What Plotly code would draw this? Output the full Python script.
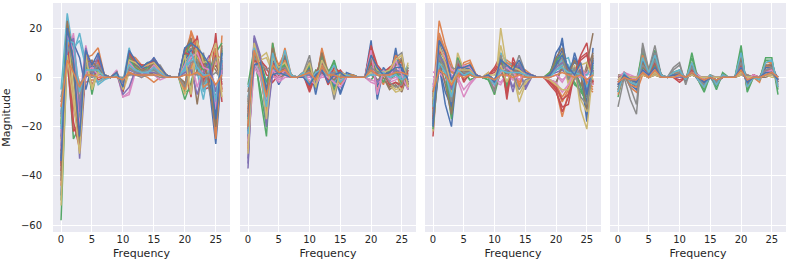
import plotly.graph_objects as go

freq = list(range(27))

panel1 = [
    [-35, 14, 8, -5, 2, 3, 1, 0.5, 0, 1, -2, 6, 4, 3, 2, 7, 3, 1, 0, 0, 6, 9, 8, 3, -5, -27, 3],
    [-20, 12, 5, -2, -2, -1, -2, -0.5, 0, 0.5, -1, 1, 2, 1, 0, -2, 0, 0, 0, 0, -5, 19, 12, 4, 2, -25, 17],
    [-58, 10, -25, -20, 10, 2, 5, 1, 0, 1, -3, 8, 5, 4, 6, 4, 3, 1, 0, 0, -9, -2, 7, -3, 2, -10, 6],
    [-30, 7, -22, -18, 4, -3, 2, 1, 0, 2, -3, 3, 5, 5, 4, 6, 2, 1, 0, 0, 5, -8, 17, -5, -4, 18, -10],
    [-48, 16, 14, -33, 3, 6, 4, 1, 0, 2, -4, 5, 3, 3, 5, 8, 4, 1, 0, 0, 10, 14, 6, 5, 9, -20, 5],
    [-25, 9, 12, -28, 9, 1, 3, 1, 0, 1, -1, 4, 2, 1, 2, 3, 2, 0, 0, 0, -3, 8, -11, 7, 6, 3, -2],
    [-12, 5, 18, -10, 13, 0, 6, 0, 0, 3, -8, -7, 2, 0, 3, 1, -1, 0, 0, 0, 3, 6, 4, 2, 4, 6, -3],
    [-40, 20, 6, -15, 7, -6, 8, 1, 0, 2, -5, 6, 7, 4, 3, 5, 5, 1, 0, 0, 8, 12, 3, 10, -6, -15, 8],
    [-18, 24, -8, -25, 5, 4, 1, 0, 0, 1, -6, 2, 1, 2, 2, 2, 1, 0, 0, 0, -4, 5, 9, 6, 1, -5, 2],
    [-5, 26, 10, 18, 6, 4, -3, -1, 0, 1, -2, 12, 3, 5, 1, 3, 1, 1, 0, 0, 2, 10, 2, -9, 5, -18, 12],
    [-28, 15, 14, 8, -5, 5, 3, 1, 0, 1, -3, 7, 4, 2, 3, 8, 4, 0, 0, 0, 12, 9, 7, 3, 0, -22, 4],
    [-32, 22, 10, -30, 8, 9, 12, 1, 0, 2, -4, 9, 8, 5, 4, 4, 2, 1, 0, 0, 9, 18, 10, 2, 7, -24, 6],
    [-50, 18, 2, -20, 11, -7, 5, 1, 0, 2, -6, 10, 6, 4, 6, 5, 3, 1, 0, 0, -6, -5, 13, 8, 3, 10, 14],
    [-38, 14, -12, -24, 2, 4, -1, 0, 0, 1, -2, 6, 3, 3, 5, 6, 3, 1, 0, 0, 11, 13, 16, -2, 8, 15, -5],
    [-15, 11, 8, -12, 0, 2, 2, 0, 0, 1, -1, 3, 2, 1, 2, 4, 2, 0, 0, 0, 4, 4, 5, 1, 2, -8, 2],
    [-10, 8, 4, -6, 3, 1, 1, 0, 0, 0, -1, 2, 1, 1, 1, 2, 1, 0, 0, 0, -2, -3, 3, 0, 1, 5, -1],
    [-22, 13, 17, -16, 5, 3, 4, 1, 0, 2, -8, -6, 4, 2, 3, 3, 2, 0, 0, 0, 6, 7, -4, 4, 3, -12, 3],
    [-8, 6, 3, -3, 1, 0, 1, 0, 0, 0, 0, 1, 1, 0, 1, 1, 0, 0, 0, 0, 1, 2, 1, 1, 0, 2, 0],
    [-26, 17, -5, -22, 6, -4, 3, 1, 0, 1, -3, 4, 2, 3, 3, 2, 2, 0, 0, 0, -7, 3, 8, 5, -3, 7, 9],
    [-14, 20, 12, 15, 4, 2, -2, 0, 0, 1, -2, 8, 2, 3, 2, 3, 1, 0, 0, 0, 3, 7, 6, -6, 4, -10, 10],
    [-33, 19, 13, -27, 7, 2, 4, 1, 0, 1, -4, 7, 5, 4, 4, 5, 3, 1, 0, 0, 7, 11, 9, 6, 4, -16, 7],
    [-44, 12, 15, -22, 10, 5, 6, 1, 0, 2, -5, 5, 4, 3, 3, 6, 2, 1, 0, 0, -5, 4, 11, -4, -2, 12, -6],
    [-19, 21, 9, -18, 4, 3, 2, 0, 0, 1, -3, 8, 4, 2, 4, 4, 2, 0, 0, 0, 8, 15, 6, 3, 5, -19, 11],
    [-36, 16, -18, -29, 8, 6, 7, 1, 0, 2, -6, 10, 6, 5, 5, 7, 4, 1, 0, 0, 10, 9, 14, 5, -2, 9, -3],
    [-24, 10, 16, -14, 12, 1, 9, 0, 0, 2, -7, -4, 3, 1, 2, 2, 1, 0, 0, 0, 2, 3, -7, 2, 6, -6, 5],
    [-42, 23, 3, -26, 6, 7, 3, 1, 0, 1, -2, 9, 5, 3, 3, 6, 3, 1, 0, 0, 11, 16, 4, 8, -4, -20, 13],
    [-29, 17, 11, -20, 2, 4, 1, 0, 0, 1, -3, 6, 3, 2, 2, 5, 2, 0, 0, 0, 5, 8, 10, 4, 3, -13, 6],
    [-16, 13, 6, -9, 5, 2, 5, 1, 0, 1, -2, 4, 2, 2, 3, 3, 1, 0, 0, 0, -4, 6, 7, -3, 2, 8, 3],
    [-52, 9, -10, -31, 9, -5, 2, 1, 0, 2, -5, 7, 6, 4, 5, 6, 3, 1, 0, 0, 9, -7, 15, 6, 7, 14, -8],
    [-21, 15, 14, -6, 3, 3, 3, 0, 0, 1, -1, 5, 3, 2, 2, 4, 2, 0, 0, 0, 4, 10, 4, 1, 1, -9, 7],
    [-34, 20, 7, -24, 11, 5, 10, 1, 0, 2, -4, 11, 7, 4, 6, 7, 4, 1, 0, 0, 12, 14, 12, 9, 5, -17, 10],
    [-12, 7, 2, -4, 1, 1, 0, 0, 0, 0, -1, 2, 1, 1, 1, 1, 1, 0, 0, 0, 1, 1, 2, 0, 1, -3, 1],
]

panel2 = [
    [-20, 8, 4, -4, 3, -3, 2, 1, 0, 1, 3, -4, 2, 1, 2, -7, 0, 1, 0, 0, 15, -9, 3, -2, 12, -2, -4],
    [-15, 10, 5, -10, 14, 2, 12, 1, 0, 2, 4, -3, 12, 2, -3, 1, 1, 0, 0, 0, 6, 2, -3, 4, 2, -5, 3],
    [-3, 12, -8, -24, 14, 0, 5, 1, 0, 1, -4, 2, 3, 1, 7, -2, 1, 0, 0, 0, 2, 1, 2, -1, 1, 0, -2],
    [-25, 6, 7, 4, -2, 1, 3, 0, 0, 1, -6, 1, 4, -3, 1, 3, 0, 0, 0, 0, 12, 3, 1, 3, 5, 8, -3],
    [-37, 17, 9, -18, 3, 2, 4, 1, 0, 2, 3, -2, 2, 3, 2, 1, 1, 1, 0, 0, 4, 2, 2, 1, 2, 3, 1],
    [-10, 11, 3, -6, 4, 1, 2, 0, 0, 1, 2, -1, 3, 1, 2, 1, 0, 0, 0, 0, 3, -1, 0, -5, -3, -6, 2],
    [-30, 5, 2, -15, 2, -1, 1, 0, 0, 0, 1, -2, 1, 0, 1, -1, 0, 0, 0, 0, -2, -3, -1, -2, -1, 1, -1],
    [-18, 13, 6, -8, 6, 4, 3, 1, 0, 2, 9, -5, 8, 3, -9, 2, 1, 0, 0, 0, 5, 4, 1, 2, 8, 10, -5],
    [-12, 9, 8, 10, 3, 3, 2, 1, 0, 1, 2, 0, 4, 2, 3, 0, 1, 0, 0, 0, 3, 2, 2, -3, -6, -5, 6],
    [-8, 7, 5, -3, 5, 3, 2, 0, 0, 1, 3, -1, 2, 1, -3, 2, 0, 1, 0, 0, 2, 1, 2, 0, 2, 1, 5],
    [-22, 14, 3, -10, 1, 5, 3, 1, 0, 1, 6, -7, 5, 2, 1, -6, 2, 1, 0, 0, 9, -4, 4, 1, 10, 3, -5],
    [-16, 12, 4, -12, 11, 5, 10, 1, 0, 2, 5, -2, 11, 1, -2, 2, 1, 0, 0, 0, 7, 3, 2, 3, 4, -2, 4],
    [-27, 8, -5, -20, 10, 1, 6, 0, 0, 1, -3, 3, 2, 2, 6, -1, 1, 1, 0, 0, -1, 2, 3, 0, 2, 1, 0],
    [-13, 7, 8, 1, 0, 2, 2, 1, 0, 1, -5, 2, 6, -2, 2, 2, 0, 0, 0, 0, 13, 5, 2, 4, 6, 6, -2],
    [-33, 15, 6, -16, 4, 2, 3, 1, 0, 1, 2, -1, 3, 2, 1, 1, 1, 0, 0, 0, 3, 1, 2, 1, 1, 2, 1],
    [-6, 10, 2, -4, 2, 0, 1, 0, 0, 0, 1, 0, 1, 0, 1, 0, 0, 0, 0, 0, 1, -1, 0, -4, -2, -3, 1],
    [-28, 4, 0, -13, 1, -2, 0, 0, 0, 0, 0, -1, 0, 0, 0, -1, 0, 0, 0, 0, -1, -2, -1, -1, 0, 0, -1],
    [-11, 9, 4, -5, 3, 2, 2, 0, 0, 1, 7, -3, 5, 2, -6, 1, 0, 0, 0, 0, 3, 2, 1, 1, 5, 8, -3],
    [-19, 6, 7, 8, 2, 2, 1, 0, 0, 1, 1, 0, 3, 1, 2, 0, 0, 0, 0, 0, 2, 1, 1, -2, -5, -4, 5],
    [-4, 5, 3, -1, 3, 2, 1, 0, 0, 0, 2, 0, 1, 1, -2, 1, 0, 0, 0, 0, 1, 1, 1, 0, 1, 0, 3],
    [-24, 11, 6, -7, 7, 3, 8, 1, 0, 1, 4, -3, 7, 2, -4, 2, 1, 0, 0, 0, 8, 2, 3, 2, 6, 5, -2],
    [-29, 13, 2, -14, 9, 2, 7, 1, 0, 1, -2, -1, 5, 1, 3, -3, 1, 1, 0, 0, 10, -6, 2, 1, 9, 6, -4],
    [-17, 9, 7, -2, 4, 4, 5, 0, 0, 1, 5, -4, 9, 2, -5, 1, 1, 0, 0, 0, 5, 3, -2, 3, 3, -3, 4],
    [-21, 7, 5, -11, 6, 1, 4, 0, 0, 1, -4, 2, 2, -1, 4, 2, 0, 0, 0, 0, 6, 1, 2, -3, -2, -4, 3],
    [-35, 16, 8, -20, 2, 3, 2, 1, 0, 1, 1, -2, 3, 2, 2, 0, 1, 0, 0, 0, 4, -2, 1, 1, 3, 2, 0],
    [-14, 10, 4, -6, 12, 2, 9, 1, 0, 2, 3, -1, 10, 1, -1, 2, 1, 0, 0, 0, 7, 4, 1, 2, 5, 7, -3],
    [-26, 6, 1, -9, 3, 0, 3, 0, 0, 0, -1, -3, 1, 0, -2, -4, 0, 0, 0, 0, 11, -7, 3, -1, 7, 1, -5],
    [-9, 8, 6, 3, 5, 3, 4, 1, 0, 1, 2, 1, 4, 1, 2, 1, 0, 0, 0, 0, 4, 2, 2, -2, -4, -3, 4],
    [-31, 14, 5, -17, 8, 4, 6, 1, 0, 1, 6, -4, 7, 2, -7, 2, 1, 0, 0, 0, 9, 3, 2, 3, 7, 9, -4],
    [-23, 12, 3, -12, 10, 1, 11, 1, 0, 2, -3, 2, 3, 1, 5, -2, 1, 0, 0, 0, 1, 1, 2, 0, 1, -1, 1],
    [-16, 5, 6, -5, 1, 2, 1, 0, 0, 0, -3, 1, 3, -2, 1, 2, 0, 0, 0, 0, 9, 4, 1, 2, 4, 4, -1],
    [-20, 11, 4, -8, 5, 2, 3, 0, 0, 1, 2, -1, 4, 1, 1, 0, 0, 0, 0, 0, 3, 1, 1, 1, 2, 2, 1],
]

panel3 = [
    [-20, 5, -11, -20, 4, 2, 3, 1, 0, 1, -2, 3, 2, 1, 2, 1, 0, 0, 0, 1, 5, 16, -2, 10, 2, -18, 12],
    [-8, 23, 13, 5, -2, 6, 7, 1, 0, 2, -6, 3, 7, 5, -4, 3, 1, 0, 0, -2, -5, -16, -6, 3, 6, -4, -6],
    [-15, 10, 2, -14, 7, 3, -1, 0, 0, -1, -5, 4, -5, 6, 3, 0, 1, 0, 0, 2, 8, 4, 1, -3, -5, -10, 3],
    [-24, 12, 8, -6, 5, -2, 2, 1, 0, 1, 4, 9, -9, 8, 2, 2, 0, 0, 0, -3, -6, -12, -11, 2, 9, 14, -3],
    [-10, 6, 4, -3, 2, 1, 1, 0, 0, 1, -3, 2, 3, -6, 4, -5, 0, 0, 0, 1, 3, 5, 2, 1, 3, -2, 1],
    [-18, 8, 5, -8, 3, 2, 2, 0, 0, 1, -4, 5, 2, 3, 2, 1, 1, 0, 0, -1, -3, 6, 3, 4, -4, 5, 18],
    [2, 3, -2, 1, -1, -8, -3, 0, 0, 0, -2, -3, 2, -1, 1, 0, 0, 0, 0, 0, 1, -2, 2, 1, 0, 3, 1],
    [-12, 17, 10, 4, 3, 4, 3, 1, 0, 1, -1, 6, 4, 2, 9, 2, 1, 0, 0, 1, 4, 7, 3, -1, 5, -8, 4],
    [-22, 9, 6, -10, 10, 3, 5, 1, 0, 2, -7, 20, 4, 2, -10, -3, 0, 0, 0, 2, 6, 10, -3, 5, -13, -21, 3],
    [-5, 7, 3, -4, 5, 2, 1, 0, 0, 0, -3, 10, 6, 5, 3, 2, 1, 0, 0, 1, 4, 7, 8, 0, 2, 1, 6],
    [-17, 4, -6, -12, 2, 1, 4, 1, 0, 1, -1, 4, 1, 2, 1, 0, 0, 0, 0, 1, 10, 14, 2, 8, 3, -15, 8],
    [-14, 18, 11, 3, -1, 5, 6, 1, 0, 1, -5, 2, 5, 3, -3, 2, 1, 0, 0, -1, -4, -10, -5, 2, 5, -3, -5],
    [-11, 8, 1, -17, 6, 2, -1, 0, 0, -1, -7, 3, -4, 4, 2, 0, 0, 0, 0, 2, 7, 3, 1, -2, -6, -9, 2],
    [-16, 11, 9, -5, 4, -1, 1, 0, 0, 1, 3, 7, -7, 6, 2, 1, 0, 0, 0, -2, -5, -14, -8, 1, 8, 10, -2],
    [-6, 4, 3, -2, 1, 1, 1, 0, 0, 0, -2, 1, 2, -4, 3, -4, 0, 0, 0, 1, 2, 3, 1, 1, 2, -1, 1],
    [-9, 6, 4, -6, 2, 2, 1, 0, 0, 1, -3, 4, 1, 2, 1, 1, 0, 0, 0, -1, -2, 4, 2, 3, -3, 3, 10],
    [0, 2, -1, 0, 0, -5, -2, 0, 0, 0, -1, -2, 1, -1, 1, 0, 0, 0, 0, 0, 1, -1, 1, 0, 0, 2, 0],
    [-7, 14, 7, 2, 2, 3, 2, 0, 0, 1, -1, 4, 3, 1, 6, 1, 1, 0, 0, 1, 3, 5, 2, -1, 3, -5, 3],
    [-13, 6, 4, -7, 8, 2, 3, 0, 0, 1, -5, 13, 3, 1, -7, -2, 0, 0, 0, 1, 4, 6, -2, 3, -9, -14, 2],
    [-3, 5, 2, -2, 3, 1, 1, 0, 0, 0, -2, 7, 4, 3, 2, 1, 0, 0, 0, 0, 3, 5, 5, 0, 1, 1, 4],
    [-19, 14, 6, -12, 5, 3, 4, 1, 0, 1, -4, 6, 4, 3, 4, 1, 1, 0, 0, 1, 6, 11, 3, 6, 4, -11, 7],
    [-11, 16, 9, 2, 1, 4, 5, 1, 0, 1, -3, 4, 6, 4, -2, 2, 1, 0, 0, -1, -3, -8, -4, 2, 5, -2, -4],
    [-21, 10, 4, -9, 8, 2, 1, 0, 0, 0, -6, 8, -3, 5, 3, 1, 1, 0, 0, 1, 7, 9, 2, 3, -4, -12, 5],
    [-13, 11, 7, -4, 6, 1, 3, 1, 0, 1, 2, 6, -6, 6, 2, 1, 0, 0, 0, -2, -4, -9, -7, 1, 7, 9, -2],
    [-8, 9, 5, -5, 4, 3, 2, 0, 0, 1, -2, 5, 3, 2, 5, 1, 1, 0, 0, 1, 4, 6, 3, 2, 3, -6, 3],
    [-17, 7, -3, -15, 3, 2, 3, 1, 0, 1, -5, 3, 2, 3, 2, 0, 0, 0, 0, 1, 8, 12, 1, 7, 2, -13, 9],
    [-4, 12, 8, 3, 2, 5, 4, 1, 0, 1, -4, 2, 4, 2, -1, 2, 1, 0, 0, -1, -2, -6, -3, 2, 4, -1, -3],
    [-15, 8, 3, -10, 7, 2, 2, 0, 0, 1, -6, 9, 2, 1, -5, -1, 0, 0, 0, 1, 5, 8, -1, 4, -8, -11, 2],
    [-9, 13, 6, -3, 3, 3, 3, 0, 0, 1, 1, 5, -2, 4, 3, 1, 0, 0, 0, -1, -3, -5, -5, 1, 5, 6, -1],
    [-12, 6, 2, -8, 3, 1, 2, 0, 0, 0, -3, 3, 2, 2, 2, 1, 0, 0, 0, 0, 3, 4, 2, 2, 1, -4, 2],
    [-20, 15, 10, -1, 4, 4, 5, 1, 0, 1, -2, 7, 5, 3, 7, 2, 1, 0, 0, 1, 5, 9, 4, 1, 6, -7, 6],
    [-6, 3, 1, -3, 1, 0, 1, 0, 0, 0, -1, 1, 1, 0, 1, 0, 0, 0, 0, 0, 1, 2, 1, 0, 1, -1, 1],
]

panel4 = [
    [-3, 1, -2, -4, 6, 2, 9, 1, 0, 0, 1, -1, 2, -1, -3, 0, -2, 0, 0, 0, 5, -1, 0, 0, 3, 4, -1],
    [-5, 1, -4, -6, 1, 0, 1, 0, 0, 1, 2, 0, 1, 0, -1, 0, 0, 0, 0, 0, 1, 1, 0, -1, 4, 6, -2],
    [-8, 2, -2, -3, 12, 3, 11, 1, 0, 2, 3, -2, 10, -1, -6, 1, -5, 2, 0, 0, 13, -6, 0, -1, 8, 8, -7],
    [-2, 1, -1, -2, 2, 1, 3, 0, 0, 0, -2, 0, 4, 0, -2, 0, -1, 0, 0, 0, 8, -4, 1, 0, 2, 3, 0],
    [-1, 0, 0, -1, 3, 0, 5, 0, 0, 0, 1, 0, 1, 0, -1, 0, 0, 0, 0, 0, 2, 0, 0, 0, 1, 2, 0],
    [1, 1, 0, 0, 1, 0, 1, 0, 0, 0, 1, 0, 1, 0, 0, 0, 0, 0, 0, 0, 1, 0, 0, 0, 0, 1, 0],
    [0, 2, 1, 0, 5, 1, 4, 0, 0, 1, 2, 0, 3, 1, -1, 0, -1, 0, 0, 0, 6, -1, 1, 0, 3, 4, -1],
    [-12, 0, -9, -15, 14, 3, 13, 1, 0, 4, 6, -3, 5, 1, -1, 1, 0, 0, 0, 0, 2, 1, 0, 0, 1, 1, 0],
    [-1, 1, 0, -1, 1, 0, 2, 0, 0, 0, 0, 0, 1, 0, 0, 0, 0, 0, 0, 0, 1, 1, 0, 0, 1, 0, 0],
    [-4, 2, -1, -2, 4, 1, 6, 0, 0, 1, 2, -1, 3, 0, -4, 0, -4, 1, 0, 0, 4, -2, 0, 0, 2, 3, -1],
    [-6, 1, -3, -5, 8, 2, 10, 1, 0, 1, 2, -1, 3, -1, -2, 0, -1, 0, 0, 0, 6, -1, 0, 0, 4, 5, -1],
    [-3, 0, -2, -3, 2, 0, 2, 0, 0, 0, 1, 0, 1, 0, 0, 0, 0, 0, 0, 0, 2, 1, 0, -2, 5, 4, -2],
    [-6, 2, -1, -2, 10, 2, 9, 1, 0, 2, 2, -1, 8, -1, -5, 1, -4, 1, 0, 0, 11, -5, 0, -1, 7, 7, -5],
    [-2, 0, -1, -1, 1, 0, 2, 0, 0, 0, -1, 0, 3, 0, -1, 0, -1, 0, 0, 0, 6, -3, 1, 0, 1, 2, 0],
    [-2, 1, 0, -1, 2, 0, 3, 0, 0, 0, 1, 0, 1, 0, -1, 0, 0, 0, 0, 0, 2, 0, 0, 0, 1, 1, 0],
    [0, 1, 0, 0, 2, 0, 1, 0, 0, 0, 1, 0, 1, 0, 0, 0, 0, 0, 0, 0, 1, 0, 0, 0, 1, 1, 0],
    [-1, 1, 0, 0, 3, 1, 3, 0, 0, 0, 1, 0, 2, 0, -1, 0, 0, 0, 0, 0, 4, -1, 0, 0, 2, 3, -1],
    [-5, 1, -4, -11, 12, 2, 10, 0, 0, 3, 5, -2, 4, 1, -1, 0, 0, 0, 0, 0, 2, 1, 0, 0, 1, 1, 0],
    [-2, 1, 0, -1, 1, 0, 1, 0, 0, 0, 0, 0, 1, 0, 0, 0, 0, 0, 0, 0, 1, 0, 0, 0, 1, 1, 0],
    [-3, 1, -1, -1, 3, 1, 4, 0, 0, 1, 1, 0, 2, 0, -3, 0, -3, 1, 0, 0, 3, -1, 0, 0, 2, 2, 0],
    [-4, 1, -2, -3, 7, 1, 7, 1, 0, 1, 2, -1, 4, 0, -2, 0, -2, 1, 0, 0, 7, -2, 0, 0, 4, 4, -2],
    [-7, 2, -3, -4, 9, 2, 8, 1, 0, 2, 2, -1, 6, -1, -4, 1, -3, 1, 0, 0, 9, -4, 0, -1, 6, 6, -4],
    [-2, 1, -1, -1, 4, 1, 5, 0, 0, 1, 1, 0, 2, 0, -1, 0, -1, 0, 0, 0, 3, -1, 0, 0, 2, 2, 0],
    [-3, 2, 0, -2, 5, 1, 6, 0, 0, 1, 1, 0, 3, 0, -2, 0, -2, 0, 0, 0, 5, -2, 1, 0, 3, 3, -1],
    [-1, 0, -1, -1, 2, 0, 2, 0, 0, 0, 0, 0, 1, 0, 0, 0, 0, 0, 0, 0, 2, -1, 0, 0, 1, 1, 0],
    [-5, 1, -2, -3, 6, 1, 8, 1, 0, 1, 2, -1, 5, 0, -3, 0, -3, 1, 0, 0, 8, -3, 0, 0, 5, 5, -3],
    [-2, 2, 0, -1, 3, 1, 3, 0, 0, 0, 1, 0, 2, 1, -1, 0, -1, 0, 0, 0, 4, -1, 1, 0, 2, 3, -1],
    [-4, 1, -1, -2, 5, 2, 7, 0, 0, 1, 2, 0, 4, 0, -3, 0, -2, 1, 0, 0, 6, -2, 0, 0, 3, 4, -1],
    [-1, 1, 0, 0, 2, 0, 2, 0, 0, 0, 1, 0, 1, 0, 0, 0, 0, 0, 0, 0, 2, 0, 0, 0, 1, 1, 0],
    [-6, 2, -2, -3, 8, 2, 9, 1, 0, 2, 3, -1, 6, -1, -4, 1, -3, 1, 0, 0, 10, -4, 0, -1, 6, 7, -4],
    [-3, 1, -1, -2, 3, 1, 4, 0, 0, 1, 1, 0, 2, 0, -2, 0, -1, 0, 0, 0, 4, -2, 0, 0, 2, 2, -1],
    [-2, 0, -1, -1, 2, 0, 3, 0, 0, 0, 1, 0, 2, 0, -1, 0, -1, 0, 0, 0, 3, -1, 0, 0, 1, 2, 0],
]

panels = [panel1, panel2, panel3, panel4]

ytick_vals = [-60, -40, -20, 0, 20]
ytick_text = ["\u221260", "\u221240", "\u221220", "0", "20"]
xtick_vals = [0, 5, 10, 15, 20, 25]

colors = ["#4C72B0", "#DD8452", "#55A868", "#C44E52", "#8172B3",
          "#937860", "#DA8BC3", "#8C8C8C", "#CCB974", "#64B5CD"]

W, H = 789, 263
ml, mr, mt, mb = 53, 3, 3, 31
pw = W - ml - mr
px_edges = [(53, 230), (240, 416), (425, 601), (610, 786)]
domains = [((a - ml) / pw, (b - ml) / pw) for a, b in px_edges]

fig = go.Figure()
for p, lines in enumerate(panels):
    xa = "x" if p == 0 else f"x{p+1}"
    ya = "y" if p == 0 else f"y{p+1}"
    for i, ys in enumerate(lines):
        fig.add_trace(go.Scatter(
            x=freq, y=ys, mode="lines", xaxis=xa, yaxis=ya,
            line=dict(color=colors[i % 10], width=1.5),
            showlegend=False, hoverinfo="skip",
        ))

font_family = "DejaVu Sans"
text_color = "#262626"
tick_font = dict(size=10, family=font_family, color=text_color)
title_font = dict(size=11, family=font_family, color=text_color)

layout = dict(
    width=W, height=H,
    margin=dict(l=ml, r=mr, t=mt, b=mb),
    paper_bgcolor="white",
    plot_bgcolor="#EAEAF2",
    font=dict(family=font_family, color=text_color),
    showlegend=False,
)
for p in range(4):
    xkey = "xaxis" if p == 0 else f"xaxis{p+1}"
    ykey = "yaxis" if p == 0 else f"yaxis{p+1}"
    layout[xkey] = dict(
        domain=list(domains[p]), anchor="y" if p == 0 else f"y{p+1}",
        range=[-1.3, 27.3], tickvals=xtick_vals,
        showgrid=True, gridcolor="white", gridwidth=1, zeroline=False,
        showline=False, ticks="", tickfont=tick_font,
        title=dict(text="Frequency", font=title_font, standoff=5),
        automargin=False,
    )
    ydict = dict(
        domain=[0, 1], anchor="x" if p == 0 else f"x{p+1}",
        range=[-62.8, 30.2], tickvals=ytick_vals, ticktext=ytick_text,
        showgrid=True, gridcolor="white", gridwidth=1, zeroline=False,
        showline=False, tickfont=tick_font, automargin=False,
    )
    if p == 0:
        ydict.update(ticks="outside", ticklen=8, tickcolor="rgba(0,0,0,0)",
                     title=dict(text="Magnitude", font=title_font, standoff=8))
    else:
        ydict.update(showticklabels=False, ticks="", matches="y")
    layout[ykey] = ydict
fig.update_layout(**layout)

fig.write_html("out.html", config={"displayModeBar": False},
               post_script="document.body.style.margin='0px';")
